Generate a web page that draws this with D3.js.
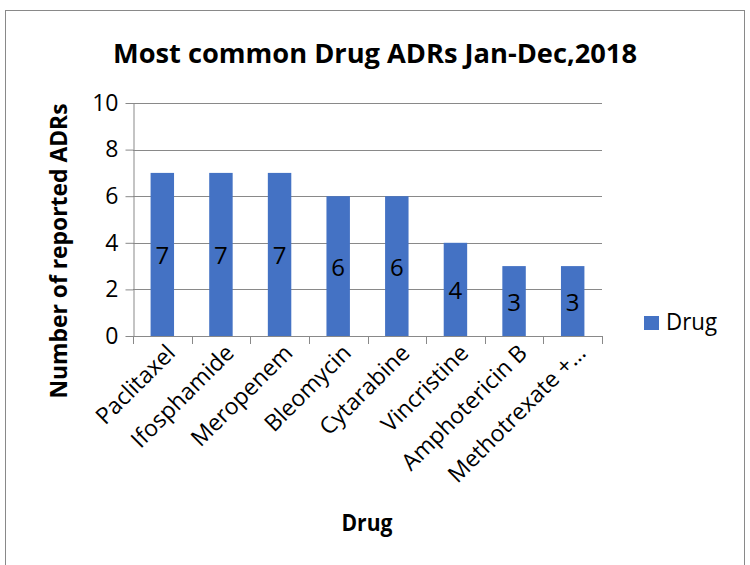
<!DOCTYPE html>
<html>
<head>
<meta charset="utf-8">
<script src="https://cdn.jsdelivr.net/npm/d3@7"></script>
<style>
  body { margin: 0; background: #fff; }
  text { font-family: "Open Sans", sans-serif; fill: #000; }
</style>
</head>
<body>
<div id="chart"></div>
<script>
const drugs = ['Paclitaxel', 'Ifosphamide', 'Meropenem', 'Bleomycin', 'Cytarabine',
    'Vincristine', 'Amphotericin B', 'Methotrexate +\u2026'];
const adrCounts = [7, 7, 7, 6, 6, 4, 3, 3];
const yTicks = [0, 2, 4, 6, 8, 10];

const width = 750;
const height = 565;
const plot = { left: 133, right: 602, top: 103, bottom: 336 };
const barColor = '#4472C4';
const gridColor = '#898989';

const svg = d3.select('#chart')
    .append('svg')
    .attr('width', width)
    .attr('height', height);

// outer border
svg.append('rect')
    .attr('x', 5.5)
    .attr('y', 10.5)
    .attr('width', 739)
    .attr('height', 570)
    .attr('fill', 'none')
    .attr('stroke', gridColor);

const x = d3.scaleBand()
    .domain(drugs)
    .range([plot.left, plot.right])
    .paddingInner(0.6)
    .paddingOuter(0.3);

const y = d3.scaleLinear()
    .domain([0, 10])
    .range([plot.bottom, plot.top]);

// gridlines
svg.append('g')
    .selectAll('line')
    .data(yTicks.filter(d => d > 0))
    .enter()
    .append('line')
    .attr('x1', plot.left)
    .attr('x2', plot.right)
    .attr('y1', d => Math.round(y(d)) + 0.5)
    .attr('y2', d => Math.round(y(d)) + 0.5)
    .attr('stroke', gridColor);

// y axis
const yAxis = svg.append('g')
    .attr('transform', `translate(${plot.left + 0.5},0)`)
    .call(d3.axisLeft(y).tickValues(yTicks).tickSize(8).tickPadding(7).tickSizeOuter(0));
yAxis.select('.domain').attr('stroke', gridColor);
yAxis.selectAll('.tick line').attr('stroke', gridColor);
yAxis.selectAll('.tick text')
    .style('font-size', '23px')
    .style('font-family', '"Open Sans", sans-serif')
    .attr('fill', '#000');

// bars
svg.append('g')
    .selectAll('rect')
    .data(adrCounts)
    .enter()
    .append('rect')
    .attr('x', (d, i) => x(drugs[i]))
    .attr('y', d => y(d))
    .attr('width', x.bandwidth())
    .attr('height', d => y(0) - y(d))
    .attr('fill', barColor);

// x axis line + category boundary ticks
const step = x.step();
const boundaries = d3.range(drugs.length + 1).map(i => plot.left + i * step);
svg.append('line')
    .attr('x1', plot.left)
    .attr('x2', plot.right)
    .attr('y1', plot.bottom + 0.5)
    .attr('y2', plot.bottom + 0.5)
    .attr('stroke', gridColor);
svg.append('g')
    .selectAll('line')
    .data(boundaries)
    .enter()
    .append('line')
    .attr('x1', d => Math.round(d) + 0.5)
    .attr('x2', d => Math.round(d) + 0.5)
    .attr('y1', plot.bottom)
    .attr('y2', plot.bottom + 8)
    .attr('stroke', gridColor);

// data labels
svg.append('g')
    .selectAll('text')
    .data(adrCounts)
    .enter()
    .append('text')
    .text(d => d)
    .attr('x', (d, i) => x(drugs[i]) + x.bandwidth() / 2)
    .attr('y', d => y(d / 2))
    .attr('dy', '0.4em')
    .attr('text-anchor', 'middle')
    .style('font-size', '24px');

// category labels
svg.append('g')
    .selectAll('text')
    .data(drugs)
    .enter()
    .append('text')
    .text(d => d)
    .attr('text-anchor', 'end')
    .attr('transform', d => `translate(${x(d) + x.bandwidth() / 2 + 3},${plot.bottom + 7}) rotate(-45)`)
    .attr('dy', '0.7em')
    .style('font-size', '23px');

// title
svg.append('text')
    .text('Most common Drug ADRs Jan-Dec,2018')
    .attr('x', 375)
    .attr('y', 63)
    .attr('text-anchor', 'middle')
    .attr('textLength', 524)
    .attr('lengthAdjust', 'spacingAndGlyphs')
    .style('font-size', '26px')
    .style('font-weight', 'bold');

// axis titles
svg.append('text')
    .text('Drug')
    .attr('x', 367)
    .attr('y', 531)
    .attr('text-anchor', 'middle')
    .attr('textLength', 51)
    .attr('lengthAdjust', 'spacingAndGlyphs')
    .style('font-size', '23px')
    .style('font-weight', 'bold');

svg.append('text')
    .text('Number of reported ADRs')
    .attr('transform', 'translate(67,251) rotate(-90)')
    .attr('text-anchor', 'middle')
    .attr('textLength', 295)
    .attr('lengthAdjust', 'spacingAndGlyphs')
    .style('font-size', '23px')
    .style('font-weight', 'bold');

// legend
const legend = svg.append('g').attr('transform', 'translate(644,316)');
legend.append('rect')
    .attr('width', 15)
    .attr('height', 14)
    .attr('fill', barColor);
legend.append('text')
    .text('Drug')
    .attr('x', 22)
    .attr('y', 14)
    .attr('textLength', 51)
    .attr('lengthAdjust', 'spacingAndGlyphs')
    .style('font-size', '23px');
</script>
</body>
</html>
